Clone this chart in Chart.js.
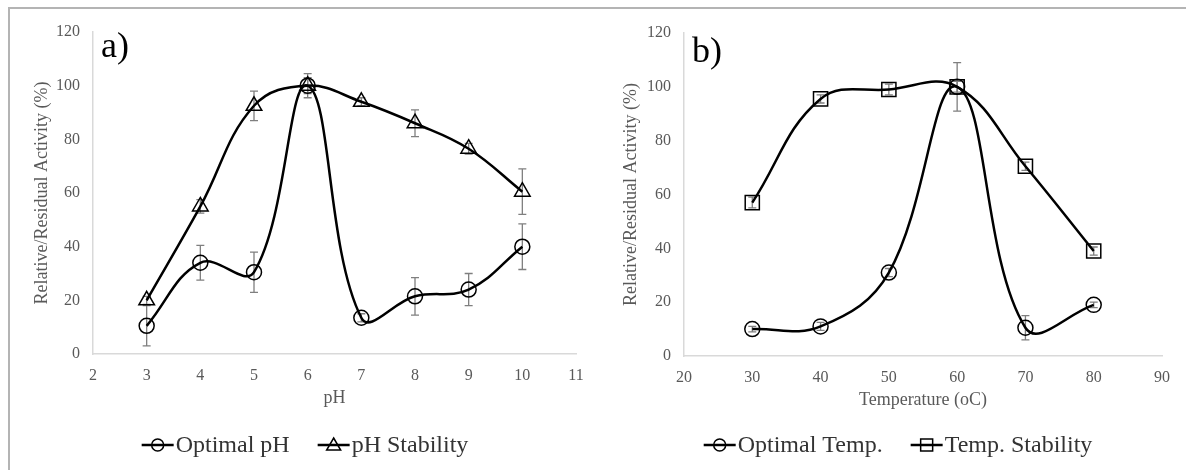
<!DOCTYPE html>
<html>
<head>
<meta charset="utf-8">
<script src="https://cdn.jsdelivr.net/npm/chart.js@4.4.0/dist/chart.umd.min.js"></script>
<style>
html, body { margin: 0; padding: 0; background: #fff; }
#wrap { position: relative; width: 1186px; height: 470px; overflow: hidden; }
#frame { position: absolute; left: 8px; top: 7px; width: 1300px; height: 600px;
  border-left: 2px solid #b4b4b4; border-top: 2px solid #b4b4b4; }
.box { position: absolute; top: 0; width: 593px; height: 470px; }
</style>
</head>
<body>
<div id="wrap">
  <div id="frame"></div>
  <div class="box" style="left:0"><canvas id="phChart"></canvas></div>
  <div class="box" style="left:593px"><canvas id="tempChart"></canvas></div>
</div>
<script>
// pH panel
var phValues = [3, 4, 5, 6, 7, 8, 9, 10];
var optimalPh = [10.5, 34, 30.5, 100, 13.5, 21.5, 24, 40];
var optimalPhErr = [7.5, 6.5, 7.5, 3, 1.5, 7, 6, 8.5];
var phStability = [20, 55, 92.5, 100, 94, 86, 76.5, 60.5];
var phStabilityErr = [1.5, 2.5, 5.5, 4.5, 1.5, 5, 2, 8.5];

// temperature panel
var tempValues = [30, 40, 50, 60, 70, 80];
var optimalTemp = [10, 11, 31, 100, 10.5, 19];
var optimalTempErr = [1, 1.5, 1.5, 2, 4.5, 1];
var tempStability = [57, 95.5, 99, 100, 70.5, 39];
var tempStabilityErr = [2, 1.5, 2, 9, 1.5, 1.5];

var serif = "'Liberation Serif', 'Times New Roman', serif";
var axisGrey = '#595959';

function toPoints(xs, ys) {
    return xs.map(function (x, i) { return { x: x, y: ys[i] }; });
}

// vertical error bars from dataset.errors
var errorBars = {
    id: 'errorBars',
    beforeDatasetsDraw: function (chart) {
        var ctx = chart.ctx;
        var xs = chart.scales.x, ys = chart.scales.y;
        ctx.save();
        ctx.strokeStyle = '#7f7f7f';
        ctx.lineWidth = 1.3;
        chart.data.datasets.forEach(function (ds) {
            ds.data.forEach(function (p, i) {
                var e = ds.errors[i];
                var px = xs.getPixelForValue(p.x);
                var top = ys.getPixelForValue(p.y + e);
                var bot = ys.getPixelForValue(p.y - e);
                ctx.beginPath();
                ctx.moveTo(px, top); ctx.lineTo(px, bot);
                ctx.moveTo(px - 4, top); ctx.lineTo(px + 4, top);
                ctx.moveTo(px - 4, bot); ctx.lineTo(px + 4, bot);
                ctx.stroke();
            });
        });
        ctx.restore();
    }
};

function drawMarker(ctx, style, x, y) {
    ctx.beginPath();
    if (style === 'circle') {
        ctx.arc(x, y, 6, 0, Math.PI * 2);
    } else if (style === 'triangle') {
        ctx.moveTo(x, y - 7);
        ctx.lineTo(x + 7, y + 5);
        ctx.lineTo(x - 7, y + 5);
        ctx.closePath();
    } else {
        ctx.rect(x - 6, y - 6, 12, 12);
    }
    ctx.stroke();
}

// legend: line with marker, then label
var lineLegend = {
    id: 'lineLegend',
    afterDraw: function (chart, args, opts) {
        var ctx = chart.ctx;
        ctx.save();
        ctx.font = '24px ' + serif;
        var items = chart.data.datasets.map(function (ds) {
            return { ds: ds, w: 34 + ctx.measureText(ds.label).width };
        });
        var gap = 28;
        var total = items.reduce(function (s, it) { return s + it.w; }, 0) + gap * (items.length - 1);
        var x = opts.centerX - total / 2;
        var y = opts.y;
        items.forEach(function (it) {
            ctx.strokeStyle = '#000';
            ctx.lineWidth = 2.5;
            ctx.beginPath();
            ctx.moveTo(x, y); ctx.lineTo(x + 32, y);
            ctx.stroke();
            ctx.lineWidth = 1.5;
            drawMarker(ctx, it.ds.pointStyle, x + 16, y);
            ctx.fillStyle = '#333';
            ctx.textBaseline = 'middle';
            ctx.textAlign = 'left';
            ctx.fillText(it.ds.label, x + 34, y + 1);
            x += it.w + gap;
        });
        ctx.restore();
    }
};

var panelLabel = {
    id: 'panelLabel',
    afterDraw: function (chart, args, opts) {
        var ctx = chart.ctx;
        ctx.save();
        ctx.font = '36px ' + serif;
        ctx.fillStyle = '#000';
        ctx.textBaseline = 'alphabetic';
        ctx.fillText(opts.text, chart.chartArea.left + 8, opts.y);
        ctx.restore();
    }
};

function series(label, xs, ys, errs, style, radius) {
    return {
        label: label,
        data: toPoints(xs, ys),
        errors: errs,
        borderColor: '#000',
        borderWidth: 2.5,
        tension: 0.4,
        fill: false,
        pointStyle: style,
        pointRadius: radius,
        pointHoverRadius: radius,
        pointBorderWidth: 1.5,
        pointBorderColor: '#000',
        pointBackgroundColor: 'rgba(0,0,0,0)'
    };
}

function makeChart(canvasId, datasets, xOpts, lay) {
    var ctx = document.getElementById(canvasId).getContext('2d');
    return new Chart(ctx, {
        type: 'line',
        data: { datasets: datasets },
        options: {
            responsive: true,
            maintainAspectRatio: false,
            animation: false,
            layout: { padding: lay.padding },
            scales: {
                x: {
                    type: 'linear',
                    min: xOpts.min,
                    max: xOpts.max,
                    ticks: { stepSize: xOpts.step, color: axisGrey, padding: 4, font: { family: serif, size: 16 } },
                    grid: { display: false },
                    border: { display: true, color: '#d9d9d9', width: 1.5 },
                    title: { display: true, text: xOpts.title, color: axisGrey,
                        font: { family: serif, size: 18 }, padding: { top: 0, bottom: 5 } },
                    afterFit: function (s) { s.height = 60; }
                },
                y: {
                    min: 0,
                    max: 120,
                    ticks: { stepSize: 20, color: axisGrey, padding: 5, font: { family: serif, size: 16 } },
                    grid: { display: false },
                    border: { display: true, color: '#d9d9d9', width: 1.5 },
                    title: { display: true, text: 'Relative/Residual Activity (%)', color: axisGrey,
                        font: { family: serif, size: 18 }, padding: { top: 13, bottom: 0 } },
                    afterFit: function (s) { s.width = lay.yWidth; }
                }
            },
            plugins: {
                legend: { display: false },
                tooltip: { enabled: false },
                lineLegend: { centerX: 305, y: 445 },
                panelLabel: { text: lay.label, y: lay.labelY }
            }
        },
        plugins: [errorBars, lineLegend, panelLabel]
    });
}

makeChart('phChart', [
    series('Optimal pH', phValues, optimalPh, optimalPhErr, 'circle', 7.5),
    series('pH Stability', phValues, phStability, phStabilityErr, 'triangle', 9)
], { min: 2, max: 11, step: 1, title: 'pH' },
   { padding: { left: 18, right: 17, top: 32, bottom: 56 }, yWidth: 75, label: 'a)', labelY: 57 });

makeChart('tempChart', [
    series('Optimal Temp.', tempValues, optimalTemp, optimalTempErr, 'circle', 7.5),
    series('Temp. Stability', tempValues, tempStability, tempStabilityErr, 'rect', 10)
], { min: 20, max: 90, step: 10, title: 'Temperature (oC)' },
   { padding: { left: 14, right: 24, top: 33, bottom: 54 }, yWidth: 77, label: 'b)', labelY: 62 });
</script>
</body>
</html>
